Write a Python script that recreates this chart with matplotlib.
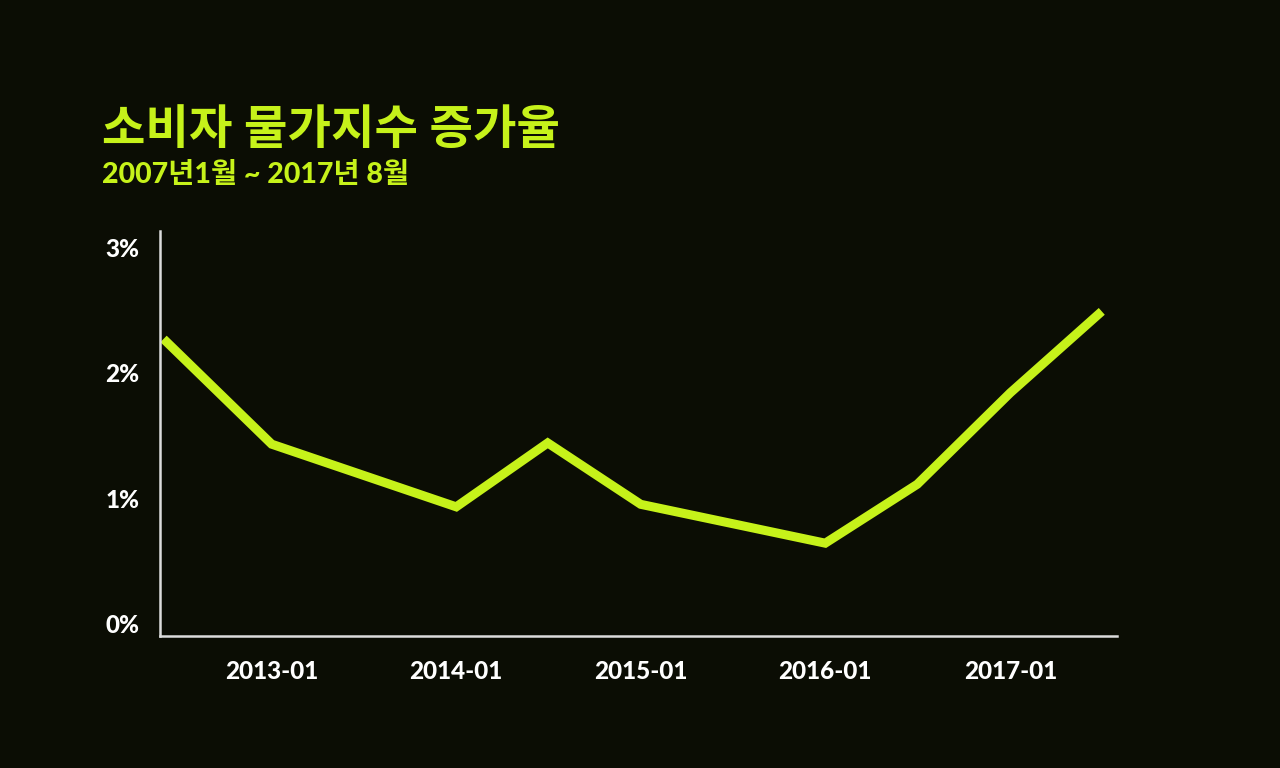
import matplotlib
matplotlib.use("Agg")
import matplotlib.pyplot as plt
import matplotlib.dates as mdates
import pandas as pd

# 소비자 물가지수 증가율 (전년 동월 대비, %)
dates = ["2012-06", "2013-01", "2014-01", "2014-07", "2015-01",
         "2016-01", "2016-07", "2017-01", "2017-07"]
rates = [2.27, 1.43, 0.93, 1.44, 0.95, 0.64, 1.11, 1.84, 2.49]
xticks = ["2013-01", "2014-01", "2015-01", "2016-01", "2017-01"]
yticks = [0, 1, 2, 3]

BG = "#0b0d04"
LIME = "#c6f21a"
AXIS = "#dcdcdc"

plt.rcParams["font.family"] = ["Lato", "Noto Sans CJK KR", "DejaVu Sans"]

fig = plt.figure(figsize=(12.8, 7.68), dpi=100, facecolor=BG)
ax = fig.add_axes([0.125, 0.172, 0.748, 0.527], facecolor=BG)

x = pd.to_datetime(dates)
ax.plot(x, rates, color=LIME, lw=6.5, solid_joinstyle="miter", solid_capstyle="butt")

ax.set_xlim(pd.Timestamp("2012-05-25"), pd.Timestamp("2017-08-01"))
ax.set_ylim(-0.1, 3.13)
ax.set_xticks(pd.to_datetime(xticks))
ax.xaxis.set_major_formatter(mdates.DateFormatter("%Y-%m"))
ax.set_yticks(yticks)
ax.set_yticklabels([f"{v}%" for v in yticks])

for s in ("top", "right"):
    ax.spines[s].set_visible(False)
for s in ("left", "bottom"):
    ax.spines[s].set_color(AXIS)
    ax.spines[s].set_linewidth(1.8)

ax.tick_params(axis="both", length=0, colors="white", labelsize=17.5)
ax.tick_params(axis="y", pad=15)
ax.tick_params(axis="x", pad=17)
for lbl in ax.get_xticklabels() + ax.get_yticklabels():
    lbl.set_fontweight("black")

fig.text(0.080, 0.812, "소비자 물가지수 증가율", color=LIME, fontsize=34,
         fontweight="bold", ha="left", va="baseline")
fig.text(0.080, 0.762, "2007년1월 ~ 2017년 8월", color=LIME, fontsize=20.5,
         fontweight="black", ha="left", va="baseline")

fig.savefig("out.png", dpi=100, facecolor=BG)
